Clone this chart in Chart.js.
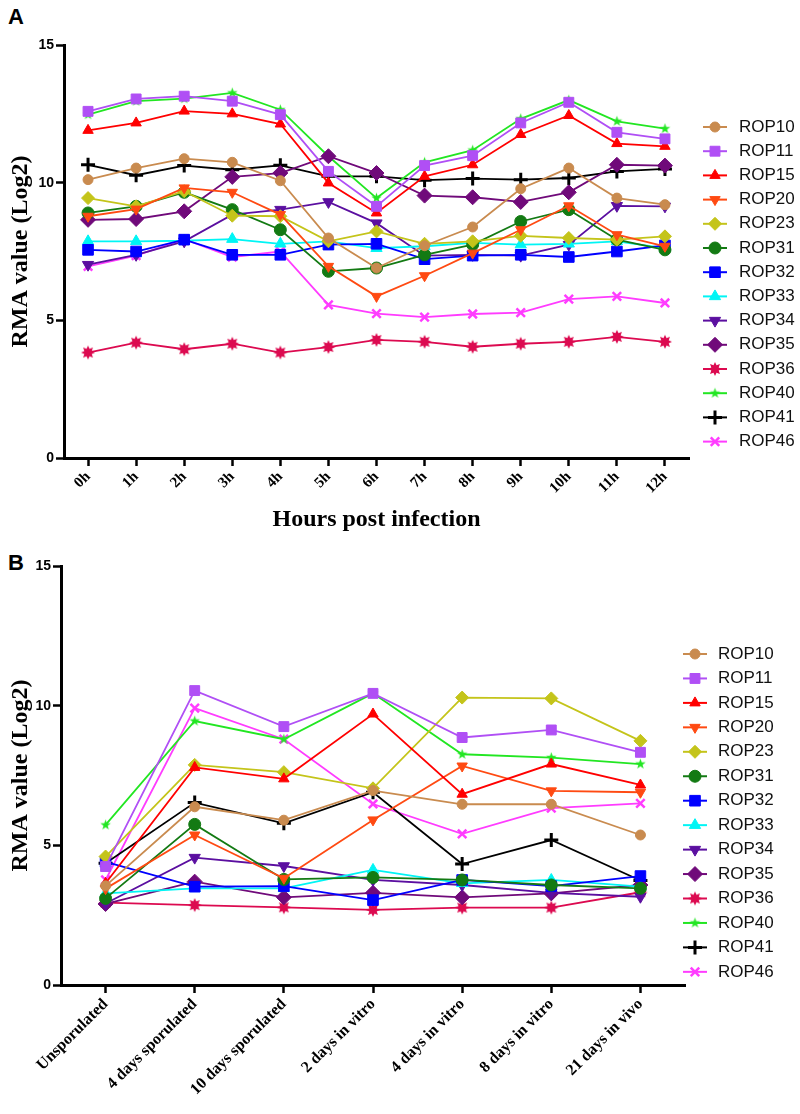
<!DOCTYPE html>
<html lang="en">
<head>
    <meta charset="UTF-8">
    <title>ROP expression</title>
    <script src="https://cdn.jsdelivr.net/npm/chart.js"></script>
    <style>
        body { margin: 0; background: #fff; width: 800px; height: 1114px; position: relative; overflow: hidden; }
        .panel { position: absolute; left: 0; width: 800px; }
        .tag { position: absolute; left: 8px; font: bold 22px Arial, sans-serif; color: #000; }
    </style>
</head>
<body>
    <div class="tag" style="top:4px">A</div>
    <div class="tag" style="top:550px">B</div>
    <div class="panel" style="top:0"><canvas id="chartA" width="800" height="545"></canvas></div>
    <div class="panel" style="top:545px"><canvas id="chartB" width="800" height="569"></canvas></div>

    <script>
        // categories
        const hours = ["0h", "1h", "2h", "3h", "4h", "5h", "6h", "7h", "8h", "9h", "10h", "11h", "12h"];
        const stages = ["Unsporulated", "4 days sporulated", "10 days sporulated", "2 days in vitro",
                        "4 days in vitro", "8 days in vitro", "21 days in vivo"];
        const ropNames = ["ROP10", "ROP11", "ROP15", "ROP20", "ROP23", "ROP31", "ROP32",
                          "ROP33", "ROP34", "ROP35", "ROP36", "ROP40", "ROP41", "ROP46"];
        const yTicks = [0, 5, 10, 15];

        // panel A - hours post infection
        const rop10A = [10.11, 10.53, 10.87, 10.74, 10.07, 7.99, 6.9, 7.71, 8.39, 9.78, 10.53, 9.44, 9.2];
        const rop11A = [12.59, 13.04, 13.14, 12.96, 12.47, 10.41, 9.14, 10.62, 10.98, 12.17, 12.92, 11.83, 11.59];
        const rop15A = [11.9, 12.17, 12.6, 12.5, 12.13, 9.99, 8.9, 10.23, 10.65, 11.75, 12.44, 11.42, 11.32];
        const rop20A = [8.78, 9.04, 9.81, 9.65, 8.84, 6.96, 5.87, 6.62, 7.44, 8.29, 9.16, 8.11, 7.69];
        const rop23A = [9.44, 9.14, 9.69, 8.8, 8.78, 7.87, 8.23, 7.78, 7.87, 8.07, 7.99, 7.93, 8.05];
        const rop31A = [8.9, 9.14, 9.65, 9.02, 8.29, 6.78, 6.9, 7.38, 7.75, 8.59, 9.02, 7.93, 7.56];
        const rop32A = [7.56, 7.5, 7.93, 7.38, 7.38, 7.75, 7.78, 7.22, 7.35, 7.38, 7.3, 7.5, 7.72];
        const rop33A = [7.87, 7.87, 7.89, 7.95, 7.78, 7.87, 7.62, 7.69, 7.81, 7.75, 7.78, 7.87, 7.62];
        const rop34A = [7.02, 7.38, 7.87, 8.84, 9.02, 9.3, 8.53, 7.35, 7.38, 7.35, 7.75, 9.16, 9.14];
        const rop35A = [8.65, 8.68, 8.96, 10.21, 10.35, 10.96, 10.35, 9.53, 9.47, 9.3, 9.65, 10.65, 10.62];
        const rop36A = [3.83, 4.19, 3.95, 4.15, 3.83, 4.03, 4.29, 4.22, 4.04, 4.15, 4.22, 4.4, 4.22];
        const rop40A = [12.47, 12.96, 13.05, 13.26, 12.65, 10.96, 9.44, 10.74, 11.18, 12.32, 13.0, 12.23, 11.96];
        const rop41A = [10.65, 10.27, 10.62, 10.47, 10.63, 10.23, 10.23, 10.09, 10.15, 10.11, 10.17, 10.41, 10.5];
        const rop46A = [6.96, 7.35, 7.95, 7.3, 7.5, 5.56, 5.24, 5.12, 5.23, 5.28, 5.77, 5.87, 5.63];

        // panel B - life stages
        const rop10B = [3.55, 6.38, 5.9, 6.96, 6.47, 6.47, 5.37];
        const rop11B = [4.24, 10.54, 9.25, 10.44, 8.86, 9.13, 8.33];
        const rop15B = [3.64, 7.79, 7.38, 9.7, 6.83, 7.91, 7.16];
        const rop20B = [3.45, 5.37, 3.82, 5.91, 7.84, 6.95, 6.9];
        const rop23B = [4.6, 7.88, 7.62, 7.04, 10.29, 10.26, 8.74];
        const rop31B = [3.1, 5.75, 3.78, 3.85, 3.76, 3.58, 3.46];
        const rop32B = [4.41, 3.52, 3.54, 3.04, 3.76, 3.54, 3.9];
        const rop33B = [3.28, 3.46, 3.46, 4.12, 3.64, 3.76, 3.52];
        const rop34B = [2.92, 4.56, 4.26, 3.76, 3.58, 3.3, 3.16];
        const rop35B = [2.9, 3.7, 3.14, 3.3, 3.14, 3.28, 3.58];
        const rop36B = [2.95, 2.86, 2.78, 2.69, 2.77, 2.77, 3.32];
        const rop40B = [5.73, 9.45, 8.8, 10.44, 8.26, 8.14, 7.91];
        const rop41B = [4.36, 6.53, 5.79, 6.9, 4.33, 5.19, 3.74];
        const rop46B = [3.76, 9.91, 8.8, 6.48, 5.41, 6.33, 6.5];

        const seriesA = [rop10A, rop11A, rop15A, rop20A, rop23A, rop31A, rop32A, rop33A, rop34A, rop35A, rop36A, rop40A, rop41A, rop46A];
        const seriesB = [rop10B, rop11B, rop15B, rop20B, rop23B, rop31B, rop32B, rop33B, rop34B, rop35B, rop36B, rop40B, rop41B, rop46B];

        // little canvases for the two markers chart.js has no shape for
        function starMarker(color, points, outer, inner) {
            const c = document.createElement("canvas");
            c.width = c.height = outer * 2 + 2;
            const g = c.getContext("2d");
            const m = outer + 1;
            g.fillStyle = color;
            g.beginPath();
            for (let i = 0; i < points * 2; i++) {
                const r = i % 2 ? inner : outer;
                const a = -Math.PI / 2 + i * Math.PI / points;
                g.lineTo(m + r * Math.cos(a), m + r * Math.sin(a));
            }
            g.closePath();
            g.fill();
            return c;
        }

        const styles = [
            { color: "#C98B4F", shape: "circle", r: 5 },
            { color: "#B04FF5", shape: "rect", r: 7 },
            { color: "#FF0000", shape: "triangle", r: 6 },
            { color: "#FF4A12", shape: "triangle", r: 6, rot: 180 },
            { color: "#C4C41A", shape: "rectRot", r: 6.5 },
            { color: "#137A13", shape: "circle", r: 6 },
            { color: "#0000FF", shape: "rect", r: 7.5 },
            { color: "#00F5F5", shape: "triangle", r: 6.5 },
            { color: "#5B0FA0", shape: "triangle", r: 6.5, rot: 180 },
            { color: "#700A7A", shape: "rectRot", r: 7.5 },
            { color: "#DC0A50", shape: starMarker("#DC0A50", 8, 7, 4), r: 6 },
            { color: "#22E622", shape: starMarker("#22E622", 5, 5.5, 2.2), r: 5 },
            { color: "#000000", shape: "cross", r: 7, bw: 3 },
            { color: "#FF3CFF", shape: "crossRot", r: 6, bw: 2.5 }
        ];

        function makeDatasets(series) {
            return series.map((vals, i) => ({
                label: ropNames[i],
                data: vals,
                borderColor: styles[i].color,
                backgroundColor: styles[i].color,
                borderWidth: 1.8,
                pointStyle: styles[i].shape,
                pointRadius: styles[i].r,
                pointRotation: styles[i].rot || 0,
                pointBorderWidth: styles[i].bw || 1,
                tension: 0,
                fill: false
            }));
        }

        const sideLegend = {
            id: "sideLegend",
            afterDraw(chart, args, opts) {
                const ctx = chart.ctx;
                chart.data.datasets.forEach((ds, i) => {
                    const y = opts.top + i * opts.step;
                    ctx.save();
                    ctx.strokeStyle = ds.borderColor;
                    ctx.lineWidth = 2;
                    ctx.beginPath();
                    ctx.moveTo(opts.x, y);
                    ctx.lineTo(opts.x + 24, y);
                    ctx.stroke();
                    ctx.fillStyle = ds.backgroundColor;
                    ctx.lineWidth = ds.pointBorderWidth;
                    Chart.helpers.drawPoint(ctx, {
                        pointStyle: ds.pointStyle,
                        rotation: ds.pointRotation,
                        radius: ds.pointRadius,
                        borderWidth: ds.pointBorderWidth
                    }, opts.x + 12, y);
                    ctx.fillStyle = "#111";
                    ctx.font = "17px Arial";
                    ctx.textBaseline = "middle";
                    ctx.fillText(ds.label, opts.textX, y);
                    ctx.restore();
                });
            }
        };

        function buildChart(id, labels, series, geo) {
            const ctx = document.getElementById(id).getContext("2d");
            return new Chart(ctx, {
                type: "line",
                data: { labels: labels, datasets: makeDatasets(series) },
                plugins: [sideLegend],
                options: {
                    responsive: false,
                    animation: false,
                    devicePixelRatio: 1,
                    layout: { padding: { left: 0, right: geo.right, top: geo.top, bottom: 0 } },
                    plugins: {
                        legend: { display: false },
                        tooltip: { enabled: false },
                        sideLegend: geo.legend
                    },
                    scales: {
                        x: {
                            offset: true,
                            ticks: {
                                color: "#000",
                                autoSkip: false,
                                maxRotation: 45,
                                minRotation: 45,
                                padding: 2,
                                font: { family: "Liberation Serif", size: geo.xFont, weight: "bold" }
                            },
                            grid: { drawOnChartArea: false, offset: false, tickLength: 8, tickWidth: 2.5, tickColor: "#000" },
                            border: { color: "#000", width: 3 },
                            title: {
                                display: !!geo.xTitle,
                                text: geo.xTitle || "",
                                color: "#000",
                                font: { family: "Liberation Serif", size: 24, weight: "bold" },
                                padding: { top: 0, bottom: 11 }
                            },
                            afterFit: s => { s.height = geo.xHeight; }
                        },
                        y: {
                            min: 0,
                            max: 15,
                            afterBuildTicks: s => { s.ticks = yTicks.map(v => ({ value: v })); },
                            ticks: { color: "#000", padding: 2, font: { family: "Arial", size: 14, weight: "bold" } },
                            grid: { drawOnChartArea: false, tickLength: 8, tickWidth: 2.5, tickColor: "#000" },
                            border: { color: "#000", width: 3 },
                            title: {
                                display: true,
                                text: "RMA value (Log2)",
                                color: "#000",
                                font: { family: "Liberation Serif", size: 24, weight: "bold" },
                                padding: { top: 6, bottom: 0 }
                            },
                            afterFit: s => { s.width = geo.yWidth; }
                        }
                    }
                }
            });
        }

        buildChart("chartA", hours, seriesA, {
            right: 111, top: 45, xHeight: 87, yWidth: 64, xFont: 15,
            xTitle: "Hours post infection",
            legend: { x: 703, textX: 739, top: 127, step: 24.2 }
        });

        buildChart("chartB", stages, seriesB, {
            right: 115, top: 21, xHeight: 129, yWidth: 61, xFont: 16,
            legend: { x: 683, textX: 718, top: 109, step: 24.45 }
        });
    </script>
</body>
</html>
